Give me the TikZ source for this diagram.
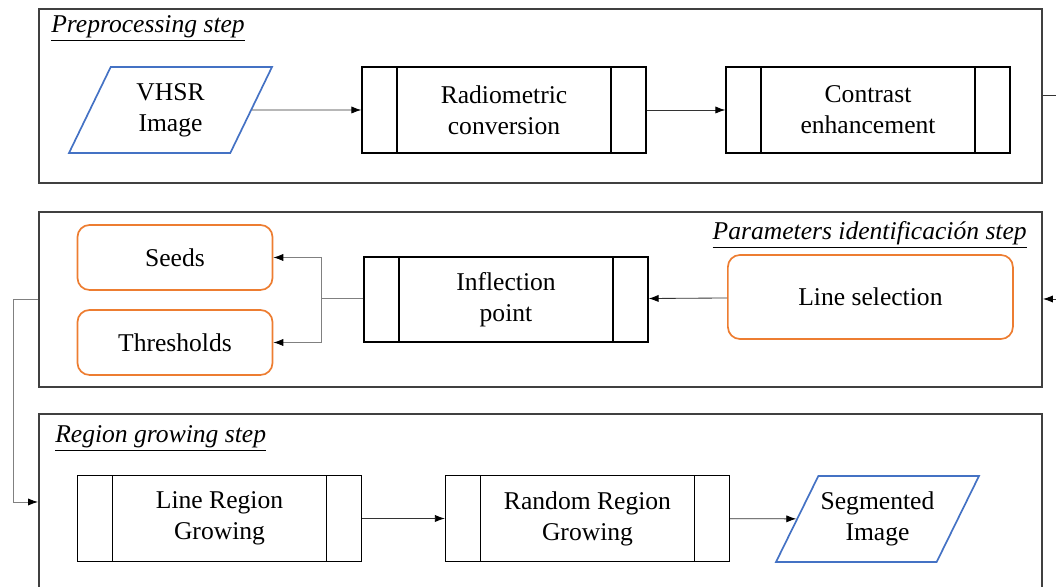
\documentclass[tikz,border=0pt]{standalone}
\usepackage{fontspec}
\setmainfont{Liberation Serif}
\usetikzlibrary{shapes.geometric,arrows.meta}

\definecolor{dataBlue}{HTML}{4472C4}
\definecolor{paramOrange}{HTML}{ED7D31}

\newcommand{\boxfont}{\fontsize{18.2}{22}\selectfont}

\tikzset{
  stepframe/.style={draw=black!75, line width=1.4pt, inner sep=0pt},
  steptitle/.style={font=\boxfont\itshape, inner sep=0pt, anchor=base west},
  process/.style={draw, line width=0.9pt, minimum width=7.1cm, minimum height=2.15cm,
    align=center, inner sep=0pt,
    path picture={
      \draw[line width=0.9pt]
        ([xshift=0.875cm]path picture bounding box.north west) --
        ([xshift=0.875cm]path picture bounding box.south west)
        ([xshift=-0.875cm]path picture bounding box.north east) --
        ([xshift=-0.875cm]path picture bounding box.south east);
    }},
  data/.style={trapezium, trapezium left angle=52, trapezium right angle=128,
    trapezium stretches body, draw=dataBlue, line width=1.2pt,
    minimum width=5.075cm, minimum height=2.15cm, align=center, inner sep=0pt},
  param/.style={draw=paramOrange, rounded corners=0.3cm, line width=1.2pt,
    align=center, inner sep=0pt},
  link/.style={line width=0.6pt, black!80},
  flow/.style={link, -{Latex[length=2.5mm,width=1.8mm,black]}},
}

\begin{document}
\begin{tikzpicture}[font=\boxfont]

    \clip (0, 0) rectangle (26.4, 14.675);

    % Step frames
    \node[stepframe, anchor=north west, minimum width=25.075cm, minimum height=4.35cm]
        (pre) at (0.95, 14.475) {};
    \node[stepframe, anchor=north west, minimum width=25.075cm, minimum height=4.375cm]
        (par) at (0.95, 9.4) {};
    \node[stepframe, anchor=north west, minimum width=25.075cm, minimum height=4.85cm]
        (reg) at (0.95, 4.35) {};

    % Titles
    \node[steptitle] (pretitle) at (1.275, 13.85) {\underline{Preprocessing step}};
    \node[steptitle, anchor=base east] (partitle) at (25.675, 8.675)
        {\underline{Parameters identificación step}};
    \node[steptitle] (regtitle) at (1.375, 3.6) {\underline{Region growing step}};

    % Preprocessing
    \node[data] (vhsr) at (4.2625, 11.925) {VHSR\\Image};
    \node[process] (radio) at (12.6, 11.925) {Radiometric\\conversion};
    \node[process] (contrast) at (21.7, 11.925) {Contrast\\enhancement};

    % Parameters
    \node[param, minimum width=4.875cm, minimum height=1.625cm] (seeds) at (4.375, 8.2375) {Seeds};
    \node[param, minimum width=4.875cm, minimum height=1.625cm] (thresh) at (4.375, 6.1125) {Thresholds};
    \node[process, minimum height=2.125cm] (infl) at (12.65, 7.1875) {Inflection\\point};
    \node[param, minimum width=7.125cm, minimum height=2.1cm] (linesel) at (21.76, 7.25) {Line selection};

    % Region growing
    \node[process] (lrg) at (5.4875, 1.7125) {Line Region\\Growing};
    \node[process] (rrg) at (14.6875, 1.7125) {Random Region\\Growing};
    \node[data] (seg) at (21.9375, 1.7) {Segmented\\Image};

    % Connectors
    \draw[flow] (vhsr) -- (radio);
    \draw[flow] (radio) -- (contrast);

    \coordinate (exitR) at (26.4, 12.3);
    \draw[link] (pre.east |- exitR) -- (exitR);
    \coordinate (entryR) at (26.4, 7.2);
    \draw[flow] (entryR) -- (par.east |- entryR);

    \draw[flow] (linesel) -- (infl);
    \coordinate (split) at (8.025, 7.225);
    \draw[link, gray] (infl.west |- split) -- (split);
    \draw[flow, gray] (split) |- (seeds.east);
    \draw[flow, gray] (split) |- (thresh.east);

    \coordinate (loop) at (0.325, 7.2);
    \coordinate (loopin) at (0.325, 2.125);
    \draw[flow, gray] (par.west |- loop) -- (loop) -- (loopin) -- (reg.west |- loopin);

    \draw[flow] (lrg) -- (rrg);
    \draw[flow] (rrg) -- (seg);

\end{tikzpicture}
\end{document}
